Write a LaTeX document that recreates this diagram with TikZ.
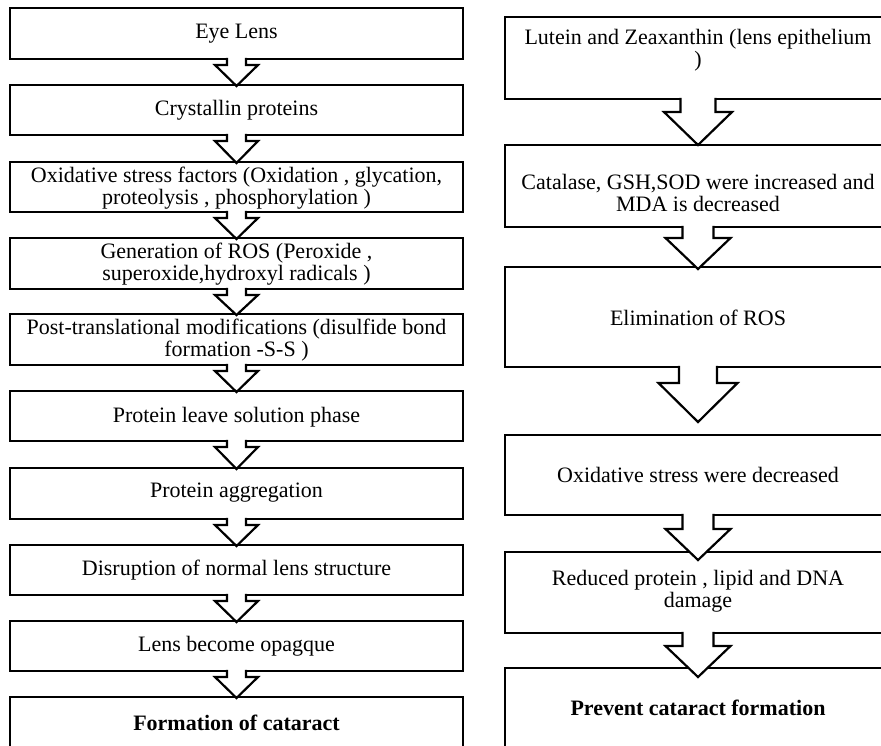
\documentclass[tikz,border=0pt]{standalone}
\usepackage{fontspec}
\setmainfont{Liberation Serif}
\usetikzlibrary{calc,fit}
\tikzset{
  bx/.style={draw=black, line width=1.1pt, fill=white, inner sep=0pt, outer sep=0pt},
  txt/.style={align=center, inner sep=0pt, font=\fontsize{11}{11}\selectfont},
  btxt/.style={align=center, inner sep=0pt, font=\fontsize{11}{11}\selectfont\bfseries},
  arrowline/.style={draw=black, line width=1.1pt, fill=white, line join=miter}
}
\newcommand\blockarr[6]{%
  \draw[arrowline] ($(#1.south)+(-#3,-1.2)$) -- ($(#1.south)+(-#3,#5)$) -- ($(#1.south)+(-#4,#5)$)
    -- ($(#2.north)+(0,#6)$) -- ($(#1.south)+(#4,#5)$) -- ($(#1.south)+(#3,#5)$) -- ($(#1.south)+(#3,-1.2)$);}
\begin{document}
\begin{tikzpicture}[x=0.5pt,y=-0.5pt]
\useasboundingbox (0,0) rectangle (881,745);
\clip (0,0) rectangle (881,745);
% left column boxes
\node[bx, fit={(10,8) (463,59)}] (l1) {};
\node[bx, fit={(10,85) (463,135)}] (l2) {};
\node[bx, fit={(10,162) (463,212)}] (l3) {};
\node[bx, fit={(10,238) (463,289)}] (l4) {};
\node[bx, fit={(10,314) (463,365)}] (l5) {};
\node[bx, fit={(10,391) (463,441)}] (l6) {};
\node[bx, fit={(10,468) (463,519)}] (l7) {};
\node[bx, fit={(10,545) (463,595)}] (l8) {};
\node[bx, fit={(10,621) (463,671)}] (l9) {};
\node[bx, fit={(10,697) (463,760)}] (l10) {};
% right column boxes
\node[bx, fit={(505,17) (891,99)}] (r1) {};
\node[bx, fit={(505,145) (891,227)}] (r2) {};
\node[bx, fit={(505,267) (891,367)}] (r3) {};
\node[bx, fit={(505,435) (891,515)}] (r4) {};
\node[bx, fit={(505,552) (891,633)}] (r5) {};
\node[bx, fit={(505,668) (891,760)}] (r6) {};
% left texts
\node[txt] (tl1) at (236.5,34) {Eye Lens};
\node[txt] (tl2) at (236.5,110) {Crystallin proteins};
\node[txt] (tl3) at (236.5,188) {Oxidative stress factors (Oxidation , glycation,\\proteolysis , phosphorylation )};
\node[txt] (tl4) at (236.5,264) {Generation of ROS (Peroxide ,\\superoxide,hydroxyl radicals )};
\node[txt] (tl5) at (236.5,340) {Post-translational modifications (disulfide bond\\formation -S-S )};
\node[txt] (tl6) at (236.5,417) {Protein leave solution phase};
\node[txt] (tl7) at (236.5,493) {Protein aggregation};
\node[txt] (tl8) at (236.5,570) {Disruption of normal lens structure};
\node[txt] (tl9) at (236.5,646) {Lens become opagque};
\node[btxt] (tl10) at (236.5,723) {Formation of cataract};
% right texts
\node[txt] (tr1) at (698,50) {Lutein and Zeaxanthin (lens epithelium\\)};
\node[txt] (tr2) at (698,193) {Catalase, GSH,SOD were increased and\\MDA is decreased};
\node[txt] (tr3) at (698,318) {Elimination of ROS};
\node[txt] (tr4) at (698,475) {Oxidative stress were decreased};
\node[txt] (tr5) at (698,591) {Reduced protein , lipid and DNA\\damage};
\node[btxt] (tr6) at (698,708) {Prevent cataract formation};
% left arrows
\blockarr{l1}{l2}{9.5}{21.5}{6}{1}
\blockarr{l2}{l3}{9.5}{21.5}{6}{1}
\blockarr{l3}{l4}{9.5}{21.5}{6}{1}
\blockarr{l4}{l5}{9.5}{21.5}{6}{1}
\blockarr{l5}{l6}{9.5}{21.5}{6}{1}
\blockarr{l6}{l7}{9.5}{21.5}{6}{1}
\blockarr{l7}{l8}{9.5}{21.5}{6}{1}
\blockarr{l8}{l9}{9.5}{21.5}{6}{1}
\blockarr{l9}{l10}{9.5}{21.5}{6}{1}
% right arrows
\blockarr{r1}{r2}{17.5}{34}{13}{0}
\blockarr{r2}{r3}{15.5}{32.5}{11}{2}
\blockarr{r3}{r4}{19}{39.5}{16}{-13}
\blockarr{r4}{r5}{15.5}{32.5}{14}{8}
\blockarr{r5}{r6}{15.5}{32.5}{13}{9}
\end{tikzpicture}
\end{document}
